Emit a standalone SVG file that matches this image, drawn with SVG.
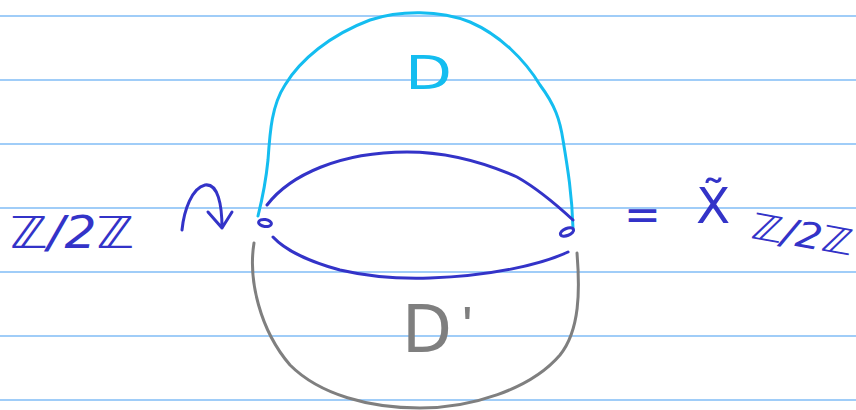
<svg xmlns="http://www.w3.org/2000/svg" width="856" height="410" viewBox="0 0 856 410">
<style>
.rule{stroke:#80bcf6;stroke-width:1.6}
.ink{fill:none;stroke-width:3;stroke-linecap:round;stroke-linejoin:round}
.blue{stroke:#3333c8}
.cyan{stroke:#14bdf0}
.gray{stroke:#7f7f7f}
.t{font-family:"DejaVu Sans","Liberation Sans",sans-serif}
</style>
<rect width="856" height="410" fill="#ffffff"/>
<g id="rules">
<line class="rule" x1="0" y1="16" x2="856" y2="16"/>
<line class="rule" x1="0" y1="80" x2="856" y2="80"/>
<line class="rule" x1="0" y1="144" x2="856" y2="144"/>
<line class="rule" x1="0" y1="208" x2="856" y2="208"/>
<line class="rule" x1="0" y1="272" x2="856" y2="272"/>
<line class="rule" x1="0" y1="336" x2="856" y2="336"/>
<line class="rule" x1="0" y1="400" x2="856" y2="400"/>
</g>
<g id="connectors">
<path class="ink cyan" d="M258,216 C262,200 266,180 268,160 C270,130 272,105 285,85 C300,60 330,35 370,20 C400,10 440,10 470,22 C500,35 525,60 540,85 C555,105 560,120 563,140 C568,170 572,195 573,228"/>
<path class="ink blue" d="M267,205 C290,175 340,152 407,152 C450,152 490,165 517,177 C540,190 560,208 573,220"/>
<path class="ink blue" d="M273,237 C285,250 310,262 340,270 C370,277 400,279 430,278 C490,276 540,265 568,252"/>
<path class="ink gray" d="M254,243 C248,280 260,330 290,365 C320,395 370,408 420,408 C470,408 530,390 560,355 C580,330 580,290 577,253"/>
</g>
<g id="point-left">
<ellipse class="ink blue" cx="265" cy="223" rx="6.5" ry="3.5" stroke-width="4" transform="rotate(8 265 223)"/>
</g>
<g id="point-right">
<ellipse class="ink blue" cx="567" cy="232" rx="7" ry="3.5" stroke-width="4" transform="rotate(-22 567 232)"/>
</g>
<g id="label-D">
<text class="t" x="405" y="89" font-size="46" textLength="47" lengthAdjust="spacingAndGlyphs" fill="#14bdf0">D</text>
</g>
<g id="label-Dprime">
<text class="t" x="402" y="352" font-size="66" textLength="50" lengthAdjust="spacingAndGlyphs" fill="#7f7f7f">D</text>
<text x="462" y="345" font-family="Liberation Sans, sans-serif" font-size="56" fill="#7f7f7f">'</text>
</g>
<g id="label-left">
<text class="t" x="10" y="248" font-size="44" textLength="124" lengthAdjust="spacingAndGlyphs" fill="#3333c8" font-style="italic">ℤ/2ℤ</text>
<path class="ink blue" d="M182,230 C184,210 192,188 205,185 C218,183 222,205 222,228 M208,212 L222,228 L232,212"/>
</g>
<g id="label-right">
<text class="t" x="624" y="230" font-size="44" fill="#3333c8">=</text>
<text class="t" x="696" y="223" font-size="50" fill="#3333c8">X̃</text>
<text class="t" x="750" y="238" font-size="36" textLength="102" lengthAdjust="spacingAndGlyphs" fill="#3333c8" font-style="italic" transform="rotate(10 750 238)">ℤ/2ℤ</text>
</g>
</svg>
